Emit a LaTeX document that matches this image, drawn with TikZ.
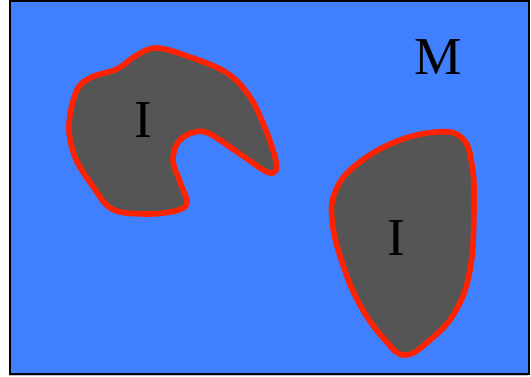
\documentclass[tikz,border=0pt]{standalone}
\usepackage{fontspec}
\setmainfont{Liberation Serif}
\usepackage{tikz}
\definecolor{mblue}{RGB}{64,128,255}
\definecolor{igray}{RGB}{85,85,85}
\definecolor{ired}{RGB}{255,34,0}

\begin{document}
\begin{tikzpicture}[
  x=0.75pt, y=-0.75pt,
  mregion/.style={draw=black, line width=1.2pt, fill=mblue},
  incl/.style={draw=ired, line width=4.2pt, fill=igray, line join=round},
  lbl/.style={font=\fontsize{40}{44}\selectfont, text=black, inner sep=0pt}
]
\useasboundingbox (0,0) rectangle (531,377);
% shadow and region M
\fill[black!25] (9,4) rectangle (528,376);
\draw[mregion] (10,1) rectangle (529,374);
% first inclusion (with notch)
\draw[incl] plot[smooth cycle, tension=0.6] coordinates {
  (157,48) (190,57) (227,73) (250,97) (265,128) (275,157) (276,170)
  (267,172) (240,154) (210,134) (195,132) (179,141) (173,160)
  (180,182) (187,203) (175,211) (145,214) (112,209) (92,185)
  (75,157) (69,125) (77,90) (92,77) (117,69) (137,55)};
% second inclusion
\draw[incl] plot[smooth cycle, tension=0.7] coordinates {
  (437,132) (462,138) (472,165) (474,210) (470,270) (455,312)
  (430,340) (405,355) (385,340) (360,305) (342,262) (332,220)
  (336,190) (356,165) (395,142)};
% labels
\node[lbl] (m) at (438,57) {M};
\node[lbl] (i1) at (143,120) {I};
\node[lbl] (i2) at (396,238) {I};
\end{tikzpicture}
\end{document}
